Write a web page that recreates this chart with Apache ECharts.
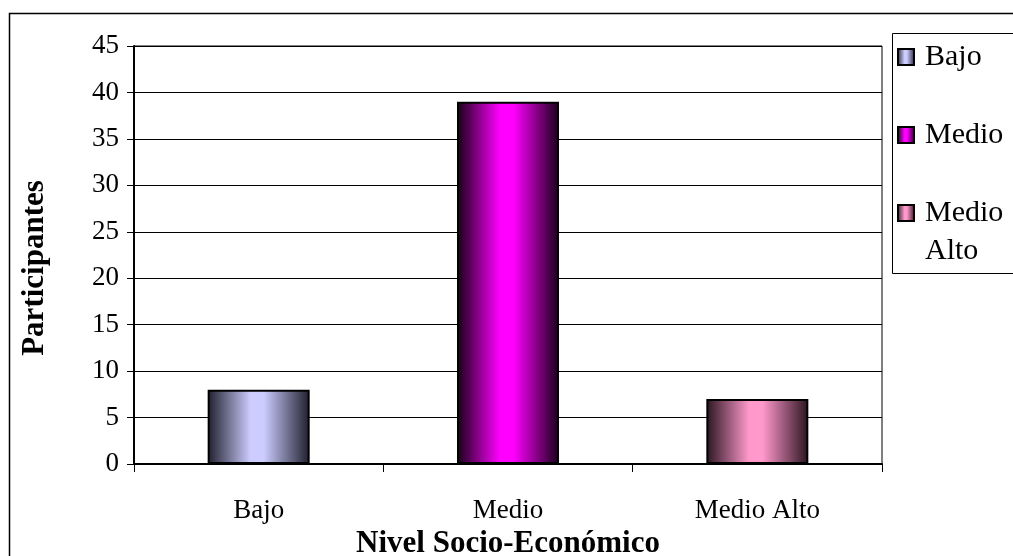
<!DOCTYPE html>
<html lang="es">
<head>
    <meta charset="UTF-8">
    <title>Nivel Socio-Económico</title>
    <style>
        body { margin: 0; background: #fff; }
        #chart { width: 1013px; height: 556px; }
    </style>
</head>
<body>
    <div id="chart"></div>
    <script src="https://cdn.jsdelivr.net/npm/echarts@6/dist/echarts.min.js"></script>
    <script>
        const categories = ['Bajo', 'Medio', 'Medio Alto'];
        const bajoValues = [8, '-', '-'];
        const medioValues = ['-', 39, '-'];
        const medioAltoValues = ['-', '-', 7];
        const yTicks = { min: 0, max: 45, interval: 5 };

        const serif = '"Liberation Serif", "Times New Roman", serif';

        function shade(edge, light) {
            return new echarts.graphic.LinearGradient(0, 0, 1, 0, [
                { offset: 0, color: edge },
                { offset: 0.42, color: light },
                { offset: 0.55, color: light },
                { offset: 1, color: edge }
            ]);
        }

        function barSeries(name, data, edge, light) {
            return {
                name: name,
                type: 'bar',
                stack: 'nse',
                barWidth: 102,
                data: data,
                itemStyle: { color: shade(edge, light), borderColor: '#000', borderWidth: 2 }
            };
        }

        const chart = echarts.init(document.getElementById('chart'));
        chart.setOption({
            animation: false,
            textStyle: { fontFamily: serif, color: '#000' },
            grid: {
                left: 134, right: 131, top: 46, bottom: 92,
                outerBoundsMode: 'none',
                show: true, borderColor: '#000', borderWidth: 1
            },
            graphic: [
                { type: 'rect', left: 7, top: 11, shape: { width: 1020, height: 560 }, style: { fill: 'none', stroke: '#000', lineWidth: 1.5 } },
                { type: 'rect', left: 890, top: 31, shape: { width: 140, height: 240 }, style: { fill: 'none', stroke: '#000', lineWidth: 1 } },
                // second line of the "Medio Alto" legend entry
                { type: 'text', left: 925, top: 236, style: { text: 'Alto', font: '30px ' + serif, fill: '#000' } }
            ],
            legend: {
                orient: 'vertical',
                left: 897,
                top: 39,
                padding: 0,
                itemWidth: 16,
                itemHeight: 16,
                itemGap: 42,
                icon: 'rect',
                textStyle: { fontFamily: serif, fontSize: 30, color: '#000', lineHeight: 36, padding: [0, 0, 0, 6] },
                data: categories,
                formatter: function (name) {
                    return name === 'Medio Alto' ? 'Medio' : name;
                }
            },
            xAxis: {
                type: 'category',
                data: categories,
                name: 'Nivel Socio-Económico',
                nameLocation: 'middle',
                nameGap: 57,
                nameTextStyle: { fontFamily: serif, fontSize: 31, fontWeight: 'bold', color: '#000' },
                axisLine: { lineStyle: { color: '#000', width: 2 } },
                axisTick: { show: true, length: 8, lineStyle: { color: '#000' } },
                axisLabel: { fontFamily: serif, fontSize: 27, color: '#000', margin: 33 }
            },
            yAxis: {
                type: 'value',
                min: yTicks.min,
                max: yTicks.max,
                interval: yTicks.interval,
                name: 'Participantes',
                nameLocation: 'middle',
                nameGap: 84,
                nameTextStyle: { fontFamily: serif, fontSize: 31, fontWeight: 'bold', color: '#000', padding: [0, 26, 0, 0] },
                axisLine: { show: true, lineStyle: { color: '#000', width: 2 } },
                axisTick: { show: true, length: 7, lineStyle: { color: '#000' } },
                axisLabel: { fontFamily: serif, fontSize: 27, color: '#000', margin: 15 },
                splitLine: { lineStyle: { color: '#000', width: 1 } }
            },
            series: [
                barSeries('Bajo', bajoValues, '#1e1e2c', '#ccccff'),
                barSeries('Medio', medioValues, '#160016', '#ff00ff'),
                barSeries('Medio Alto', medioAltoValues, '#2a1420', '#ff99cc')
            ]
        });
    </script>
</body>
</html>
